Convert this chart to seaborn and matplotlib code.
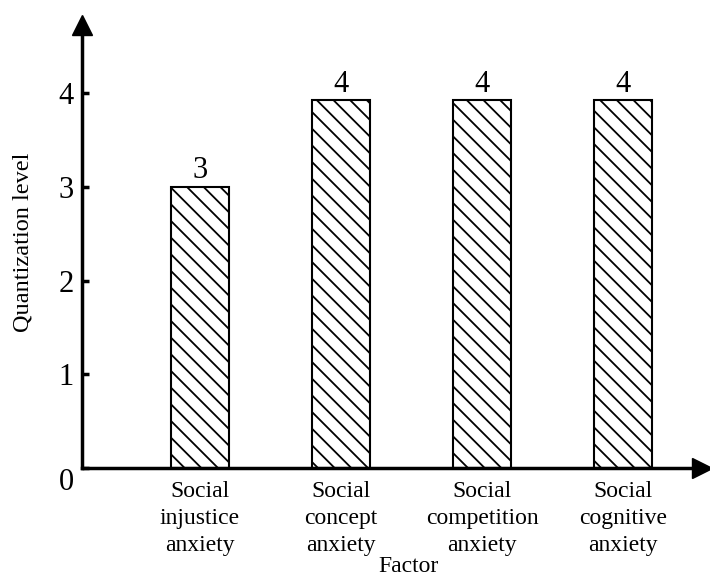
import matplotlib
matplotlib.use("Agg")
import matplotlib.pyplot as plt
import seaborn as sns
import pandas as pd

# ---------------- data ----------------
factors = ["Social\ninjustice\nanxiety", "Social\nconcept\nanxiety",
           "Social\ncompetition\nanxiety", "Social\ncognitive\nanxiety"]
levels = [3.0, 3.92, 3.92, 3.92]
ytick_values = [0, 1, 2, 3, 4]

df = pd.DataFrame({"Factor": factors, "Quantization level": levels})

# ---------------- style ----------------
sns.set_style("white")
plt.rcParams["font.family"] = ["Liberation Serif", "DejaVu Serif"]
plt.rcParams["hatch.linewidth"] = 1.3
plt.rcParams["text.color"] = "black"
plt.rcParams["axes.labelcolor"] = "black"
plt.rcParams["xtick.color"] = "black"
plt.rcParams["ytick.color"] = "black"

fig = plt.figure(figsize=(7.10, 5.78), dpi=100)
ax = fig.add_axes([0.1155, 0.1903, 0.8732, 0.7664])

sns.barplot(data=df, x="Factor", y="Quantization level", ax=ax,
            color="white", edgecolor="black", linewidth=1.5,
            width=0.41, hatch="\\\\", saturation=1)

ax.bar_label(ax.containers[0], labels=[f"{v:.0f}" for v in levels],
             fontsize=22, padding=1, color="black")

ax.set_xlim(-0.834, 3.557)
ax.set_ylim(0, 4.725)
ax.set_yticks(ytick_values)
ax.set_yticklabels([str(v) for v in ytick_values], fontsize=22)
ax.get_yticklabels()[0].set_va("top")

ax.tick_params(axis="y", direction="in", length=5, width=2.5, pad=6, left=True)
ax.tick_params(axis="x", length=0, pad=9, labelsize=17)
for t in ax.get_xticklabels():
    t.set_linespacing(1.4)

for side in ["top", "right"]:
    ax.spines[side].set_visible(False)
for side in ["left", "bottom"]:
    ax.spines[side].set_linewidth(2.5)
    ax.spines[side].set_color("black")

# arrow heads at the ends of the axes
ax.plot(1, 0, ">k", markersize=14, transform=ax.transAxes, clip_on=False)
ax.plot(0, 1, "^k", markersize=14, transform=ax.transAxes, clip_on=False)

ax.set_xlabel("Factor", fontsize=17)
ax.xaxis.set_label_coords(0.527, -0.199)
ax.set_ylabel("Quantization level", fontsize=17.5)
ax.yaxis.set_label_coords(-0.078, 0.51)

fig.savefig("out.png", dpi=100)
